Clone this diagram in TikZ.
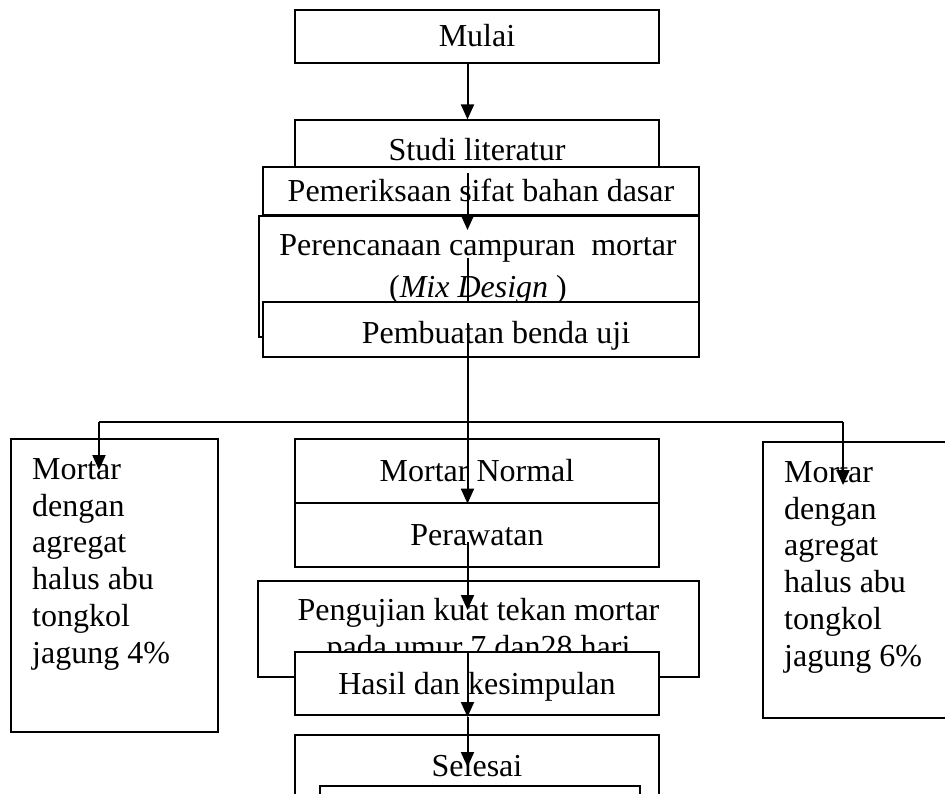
\documentclass[tikz,border=0pt]{standalone}
\usepackage{fontspec}
\setmainfont{Liberation Serif}
\usetikzlibrary{arrows.meta}
\begin{document}
\begin{tikzpicture}[x=1pt,y=-1pt,
  every node/.style={font=\fontsize{32pt}{36.8pt}\selectfont},
  box/.style={draw, fill=white, line width=1.2pt, inner sep=0pt, text height=21pt, text depth=0pt},
  txt/.style={inner sep=0pt},
  conn/.style={line width=2pt},
  hconn/.style={line width=1.4pt},
  arr/.style={line width=2pt, -{Triangle[length=15pt,width=13pt]}}
]
\path[use as bounding box] (0,0) rectangle (945,794);
\clip (0,0) rectangle (945,794);
\coordinate (spine) at (467.5,0);

% central column, top part
\node[box, minimum width=364pt, minimum height=53pt] (mulai) at (477,36.5) {Mulai};
\node[box, minimum width=364pt, minimum height=60pt] (studi) at (477,150) {Studi literatur};
\node[box, minimum width=436pt, minimum height=48pt] (periksa) at (481,191) {Pemeriksaan sifat bahan dasar};
\node[box, minimum width=440pt, minimum height=121pt] (rencana) at (479,276.5) {};
\node[txt, anchor=north, align=center] (trencana) at (478,233) {\rule{0pt}{22pt}Perencanaan campuran\ \ mortar\\[6pt](\textit{Mix Design} )};
\node[box, minimum width=436pt, minimum height=55pt] (buat) at (481,329.5) {};
\node[txt, anchor=base] (tbuat) at (496,343) {Pembuatan benda uji};

% side boxes
\node[box, minimum width=207pt, minimum height=293pt] (kiri) at (114.5,585.5) {};
\node[txt, anchor=north west, align=left] (tkiri) at (32,457) {\rule{0pt}{22pt}Mortar\\dengan\\agregat\\halus abu\\tongkol\\jagung 4\%};
\node[box, minimum width=200pt, minimum height=276pt] (kanan) at (863,580) {};
\node[txt, anchor=north west, align=left] (tkanan) at (784,460) {\rule{0pt}{22pt}Mortar\\dengan\\agregat\\halus abu\\tongkol\\jagung 6\%};

% central column, bottom part
\node[box, minimum width=364pt, minimum height=64pt] (normal) at (477,471) {Mortar Normal};
\node[box, minimum width=364pt, minimum height=64pt] (rawat) at (477,535) {Perawatan};
\node[box, minimum width=441pt, minimum height=96pt] (uji) at (478.5,629) {};
\node[txt, anchor=north, align=center] (tuji) at (478.5,598) {\rule{0pt}{22pt}Pengujian kuat tekan mortar\\pada umur 7 dan28 hari};
\node[box, minimum width=364pt, minimum height=63pt] (hasil) at (477,683.5) {Hasil dan kesimpulan};
\node[box, minimum width=364pt, minimum height=80pt, text height=0pt] (selesai) at (477,775) {};
\node[txt, anchor=base] (tselesai) at (477,776) {Selesai};
\draw[line width=1.2pt] (320,800) -- (320,786) -- (640,786) -- (640,800);

% connectors
\coordinate (a2s) at (467.5,173);
\coordinate (a2e) at (467.5,230);
\coordinate (l3s) at (467.5,258);
\coordinate (l4s) at (467.5,323);
\coordinate (jc) at (467.5,422);
\coordinate (jl) at (99,422);
\coordinate (jr) at (843,422);
\coordinate (kiriE) at (99,470);
\coordinate (kananE) at (843,485);
\coordinate (a9s) at (467.5,542);
\coordinate (a9e) at (467.5,610);
\coordinate (a10e) at (467.5,717);
\coordinate (a11e) at (467.5,767);

\draw[arr] (mulai.south -| spine) -- (studi.north -| spine);
\draw[arr] (a2s) -- (a2e);
\draw[conn] (l3s) -- (buat.north -| spine);
\draw[conn] (l4s) -- (jc);
\draw[hconn] (jl) -- (jr);
\draw[arr] (jl) -- (kiriE);
\draw[arr] (jr) -- (kananE);
\draw[arr] (jc) -- (normal.south -| spine);
\draw[arr] (a9s) -- (a9e);
\draw[arr] (hasil.north -| spine) -- (a10e);
\draw[arr] (a10e) -- (a11e);
\end{tikzpicture}
\end{document}
